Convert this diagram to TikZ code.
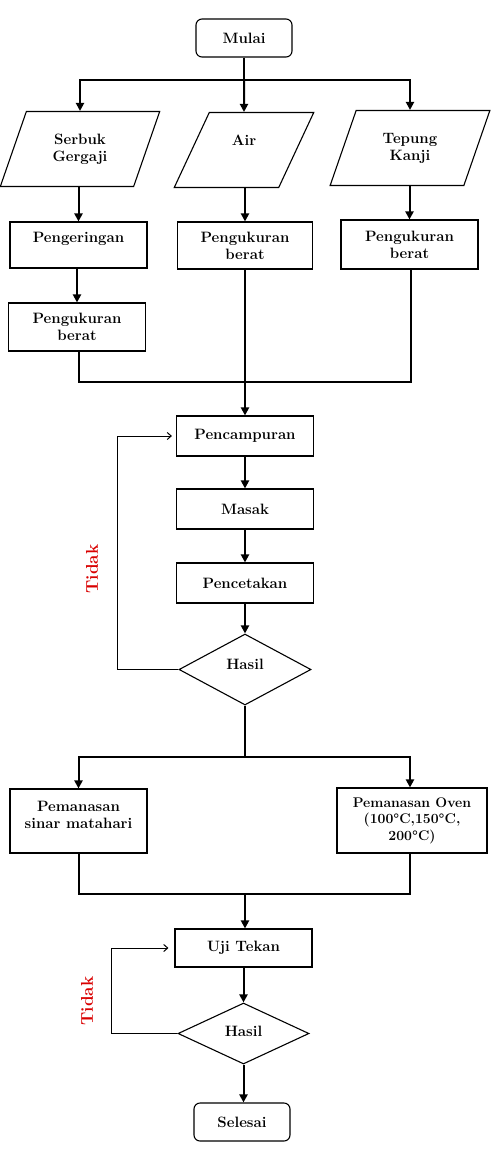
\documentclass[tikz,border=0pt]{standalone}
\usetikzlibrary{arrows.meta,shapes.geometric}
\begin{document}
\begin{tikzpicture}[x=1pt,y=-1pt,
  every node/.style={font=\fontsize{15}{17}\selectfont\bfseries, align=center, inner sep=2pt},
  box/.style={draw, line width=1.1pt, minimum width=137pt, minimum height=40pt},
  term/.style={box, rounded corners=6pt, minimum width=96pt, minimum height=38pt},
  para/.style={draw, line width=1.1pt, trapezium, trapezium left angle=67.5,
    trapezium right angle=112.5, trapezium stretches=true,
    minimum width=160pt, minimum height=75pt},
  decide/.style={draw, line width=1.1pt, diamond, inner sep=0pt},
  raised/.style={text depth=#1},
  flow/.style={line width=2pt},
  arr/.style={flow, -{Triangle[length=8pt,width=8pt]}},
  back/.style={line width=1pt, -{Straight Barb[length=4pt,width=7pt]}},
  nolabel/.style={text=red!85!black, rotate=90, font=\fontsize{17}{19}\selectfont\bfseries}
]
\useasboundingbox (0,0) rectangle (494,1152);

% start and inputs
\node[term] (mulai) at (244,38) {Mulai};
\node[para] (serbuk) at (80,149) {Serbuk\\Gergaji};
\node[para, minimum width=140pt, raised=20pt] (air) at (244,150) {Air};
\node[para] (tepung) at (410,148) {Tepung\\Kanji};

% preparation
\node[box, minimum height=46pt, raised=15pt] (kering) at (78.5,245) {Pengeringan};
\node[box, minimum height=48pt] (ukur1) at (77,327) {Pengukuran\\berat};
\node[box, minimum width=135pt, minimum height=47pt] (ukur2) at (245,245.5) {Pengukuran\\berat};
\node[box, minimum height=49pt] (ukur3) at (409.5,244.5) {Pengukuran\\berat};

% processing
\node[box] (campur) at (245,436) {Pencampuran};
\node[box] (masak) at (245,509) {Masak};
\node[box] (cetak) at (245,583) {Pencetakan};
\node[decide, minimum width=132pt, minimum height=71pt, raised=10pt] (hasil1) at (245,669.5) {Hasil};

% heating
\node[box, minimum height=64pt, raised=12pt] (surya) at (78.5,821) {Pemanasan\\sinar matahari};
\node[box, minimum width=150pt, minimum height=65pt,
  font=\fontsize{14}{16.5}\selectfont\bfseries] (oven) at (412,820.5)
  {Pemanasan Oven\\(100\textdegree C,150\textdegree C,\\200\textdegree C)};

% testing and end
\node[box, minimum height=38pt] (uji) at (243.5,948) {Uji Tekan};
\node[decide, minimum width=131pt, minimum height=61pt, raised=4pt] (hasil2) at (243.5,1033.5) {Hasil};
\node[term] (selesai) at (242,1122) {Selesai};

% junction points
\coordinate (split1) at (244,80);
\coordinate (merge1) at (245,382);
\coordinate (split2) at (245,757);
\coordinate (merge2) at (245,894);

% connectors
\draw[flow] (mulai.south) -- (split1);
\draw[arr] (split1) -| (serbuk.north);
\draw[arr] (split1) -- (air.north);
\draw[arr] (split1) -| (tepung.north);

\draw[arr] (serbuk.south -| kering.north) -- (kering.north);
\draw[arr] (air.south -| ukur2.north) -- (ukur2.north);
\draw[arr] (tepung.south -| ukur3.north) -- (ukur3.north);
\draw[arr] (kering.south -| ukur1.north) -- (ukur1.north);

\draw[flow] ([xshift=2pt]ukur1.south) |- (merge1);
\draw[flow] ([xshift=1.5pt]ukur3.south) |- (merge1);
\draw[arr] (ukur2.south) -- (campur.north);

\draw[arr] (campur) -- (masak);
\draw[arr] (masak) -- (cetak);
\draw[arr] (cetak.south) -- (cetak.south |- hasil1.north);
\draw[back] (hasil1.west) -- (117,669.5) |- ([xshift=-4pt]campur.west);

\draw[flow] (hasil1.south) -- (split2);
\draw[arr] (split2) -| (surya.north);
\draw[arr] (split2) -| ([xshift=-2pt]oven.north);

\draw[flow] (surya.south) |- (merge2);
\draw[flow] ([xshift=-2pt]oven.south) |- (merge2);
\draw[arr] (merge2) -- (merge2 |- uji.north);

\draw[arr] (uji) -- (hasil2);
\draw[back] (hasil2.west) -- (111,1033.5) |- ([xshift=-6pt]uji.west);
\draw[arr] (hasil2.south) -- (hasil2.south |- selesai.north);

% loop labels
\node[nolabel] (tidak1) at (92,569) {Tidak};
\node[nolabel] (tidak2) at (87,1001) {Tidak};
\end{tikzpicture}
\end{document}
